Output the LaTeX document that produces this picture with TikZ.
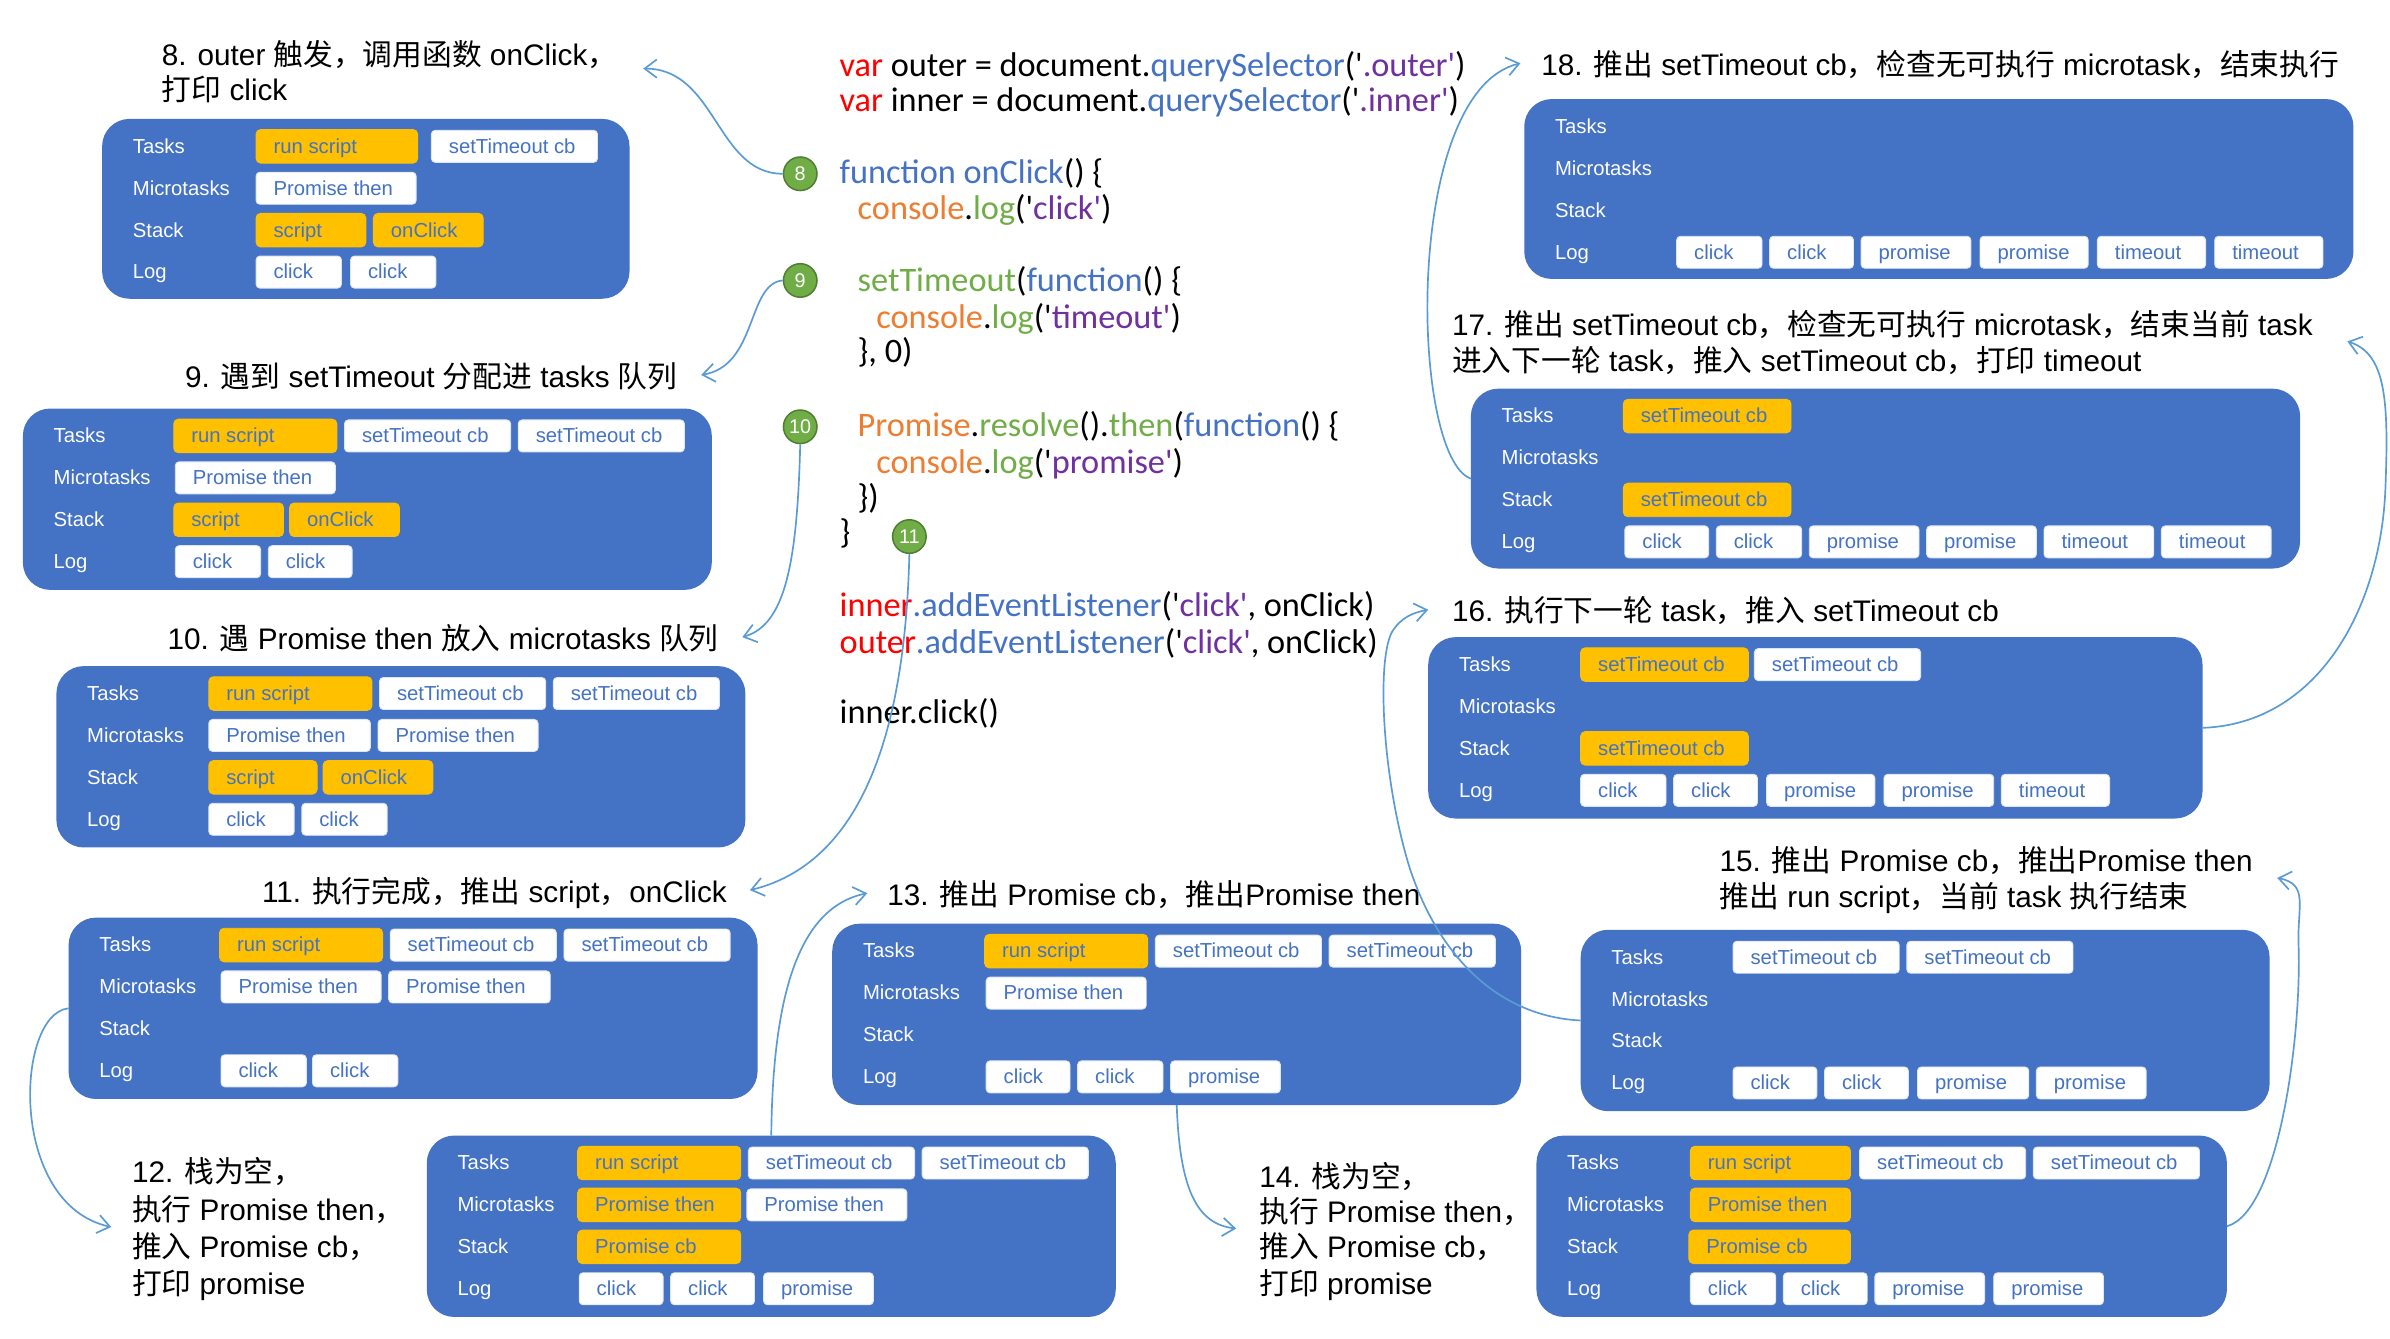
\documentclass[tikz,border=0pt]{standalone}
\usepackage{fontspec}
\setmainfont{Liberation Sans}
\newfontfamily\zhfont{Noto Sans CJK SC}
\newfontfamily\codefont{Carlito}
\usetikzlibrary{arrows.meta}

\definecolor{panelblue}{HTML}{4472C4}
\definecolor{taskorange}{HTML}{FFC000}
\definecolor{connblue}{HTML}{5B9BD5}
\definecolor{numgreen}{HTML}{70AD47}
\definecolor{numdark}{HTML}{507E32}
\definecolor{kwred}{HTML}{FF0000}
\definecolor{fnblue}{HTML}{4472C4}
\definecolor{strpurple}{HTML}{7030A0}
\definecolor{conorange}{HTML}{ED7D31}
\definecolor{loggreen}{HTML}{70AD47}

% Chinese runs inside mixed titles
\newcommand\zh[1]{{\zhfont #1}}
% syntax colouring for the code listing
\newcommand\cRed[1]{\textcolor{kwred}{#1}}
\newcommand\cBlue[1]{\textcolor{fnblue}{#1}}
\newcommand\cPur[1]{\textcolor{strpurple}{#1}}
\newcommand\cOra[1]{\textcolor{conorange}{#1}}
\newcommand\cGrn[1]{\textcolor{loggreen}{#1}}
\newcommand\sqt{\char39\relax}

\tikzset{
  panelbox/.style={fill=panelblue, rounded corners=18pt, inner sep=0pt, outer sep=0pt},
  lbl/.style={text=white, font=\fontsize{13.3}{14}\selectfont, anchor=west,
    inner sep=0pt, text height=10.5pt, text depth=1.5pt},
  btnw/.style={fill=white, draw=white!82!panelblue, line width=0.6pt, rounded corners=2.5pt,
    text=panelblue, font=\fontsize{13.3}{14}\selectfont, anchor=west,
    inner xsep=11.5pt, inner ysep=0pt, minimum height=21pt,
    text height=10.5pt, text depth=1.5pt, outer sep=0pt},
  btno/.style={btnw, fill=taskorange, draw=taskorange, rounded corners=3pt, minimum height=22pt},
  ttl/.style={font=\fontsize{19.5}{23}\selectfont, anchor=base west, inner sep=0pt, yshift=-7pt},
  ttr/.style={ttl, anchor=base east},
  code/.style={font=\codefont\fontsize{22.5}{26}\selectfont, anchor=base west, inner sep=0pt, yshift=-6.5pt},
  num/.style={circle, fill=numgreen, draw=numdark, line width=1pt, minimum size=22pt,
    inner sep=0pt, text=white, font=\fontsize{13}{13}\selectfont},
  conn/.style={draw=connblue, line width=1.1pt, -{Straight Barb[length=8pt,width=12pt]}},
}

% state panel: name, left x, top y, width, height
\newcommand\statepanel[5]{%
  \node[panelbox, minimum width=#4pt, minimum height=#5pt, anchor=north west] (#1) at (#2,#3) {};
  \pgfmathsetmacro\lx{#2+20}%
  \pgfmathsetmacro\ly{#3+18}%
  \node[lbl] (#1-tasks) at (\lx,\ly) {Tasks};
  \pgfmathsetmacro\ly{#3+45.5}%
  \node[lbl] (#1-micro) at (\lx,\ly) {Microtasks};
  \pgfmathsetmacro\ly{#3+73}%
  \node[lbl] (#1-stack) at (\lx,\ly) {Stack};
  \pgfmathsetmacro\ly{#3+100.5}%
  \node[lbl] (#1-log) at (\lx,\ly) {Log};
}
% queue entry: name, panel top y, row, left x, right x, style, text
\newcommand\qbtn[7]{%
  \pgfmathsetmacro\by{#2+18+27.5*(#3-1)}%
  \pgfmathsetmacro\bw{#5-#4-23}%
  \node[#6] (#1) at (#4,\by) {\makebox[\bw pt][l]{#7}};
}

\begin{document}
\begin{tikzpicture}[x=1pt, y=-1pt]
\fill[white] (0,0) rectangle (1568,878);
\useasboundingbox (0,0) rectangle (1568,878);

% ---------------- code listing ----------------
\node[code] (l1) at (550.7,43.7) {\cRed{var} outer = document.\cBlue{querySelector}(\sqt\cPur{.outer\sqt})};
\node[code] (l2) at (550.7,66.7) {\cRed{var} inner = document.\cBlue{querySelector}(\sqt\cPur{.inner\sqt})};
\node[code] (l3) at (550.7,113.7) {\cBlue{function onClick}() \{};
\node[code] (l4) at (562.5,137.8) {\cOra{console}.\cGrn{log}(\sqt\cPur{click\sqt})};
\node[code] (l5) at (562.5,184.8) {\cGrn{setTimeout}(\cBlue{function}() \{};
\node[code] (l6) at (574.7,208.7) {\cOra{console}.\cGrn{log}(\sqt\cPur{timeout\sqt})};
\node[code] (l7) at (562.5,231.5) {\}, 0)};
\node[code] (l8) at (562.5,280) {\cOra{Promise}.\cGrn{resolve}().\cGrn{then}(\cBlue{function}() \{};
\node[code] (l9) at (574.7,304) {\cOra{console}.\cGrn{log}(\sqt\cPur{promise\sqt})};
\node[code] (l10) at (562.5,327) {\})};
\node[code] (l11) at (550.7,350) {\}};
\node[code] (l12) at (550.7,398) {\cRed{inner}\cBlue{.addEventListener}(\sqt\cPur{click\sqt}, onClick)};
\node[code] (l13) at (550.7,422) {\cRed{outer}\cBlue{.addEventListener}(\sqt\cPur{click\sqt}, onClick)};
\node[code] (l14) at (550.7,468) {inner.click()};

\node[num] (c8) at (525,114) {8};
\node[num] (c9) at (525,184) {9};
\node[num] (c10) at (525,280) {10};
\node[num] (c11) at (596.6,352) {11};

% ---------------- step 8 ----------------
\node[ttl] (t8a) at (106,36) {8. outer \zh{触发，调用函数} onClick\zh{，}};
\node[ttl] (t8b) at (106,59) {\zh{打印} click};
\statepanel{p8}{67}{78}{346}{118}
\qbtn{p8-t1}{78}{1}{168}{274}{btno}{run script}
\qbtn{p8-t2}{78}{1}{283}{392}{btnw}{setTimeout cb}
\qbtn{p8-m1}{78}{2}{168}{273}{btnw}{Promise then}
\qbtn{p8-s1}{78}{3}{168}{240}{btno}{script}
\qbtn{p8-s2}{78}{3}{245}{317}{btno}{onClick}
\qbtn{p8-l1}{78}{4}{168}{224}{btnw}{click}
\qbtn{p8-l2}{78}{4}{230}{286}{btnw}{click}

% ---------------- step 9 ----------------
\node[ttr] (t9) at (444.6,247) {9. \zh{遇到} setTimeout \zh{分配进} tasks \zh{队列}};
\statepanel{p9}{15}{268}{452}{119}
\qbtn{p9-t1}{268}{1}{114}{221}{btno}{run script}
\qbtn{p9-t2}{268}{1}{226}{335}{btnw}{setTimeout cb}
\qbtn{p9-t3}{268}{1}{340}{449}{btnw}{setTimeout cb}
\qbtn{p9-m1}{268}{2}{115}{220}{btnw}{Promise then}
\qbtn{p9-s1}{268}{3}{114}{186}{btno}{script}
\qbtn{p9-s2}{268}{3}{190}{262}{btno}{onClick}
\qbtn{p9-l1}{268}{4}{115}{171}{btnw}{click}
\qbtn{p9-l2}{268}{4}{176}{231}{btnw}{click}

% ---------------- step 10 ----------------
\node[ttr] (t10) at (471.7,419) {10. \zh{遇} Promise then \zh{放入} microtasks \zh{队列}};
\statepanel{p10}{37}{437}{452}{119}
\qbtn{p10-t1}{437}{1}{137}{244}{btno}{run script}
\qbtn{p10-t2}{437}{1}{249}{358}{btnw}{setTimeout cb}
\qbtn{p10-t3}{437}{1}{363}{472}{btnw}{setTimeout cb}
\qbtn{p10-m1}{437}{2}{137}{243}{btnw}{Promise then}
\qbtn{p10-m2}{437}{2}{248}{353}{btnw}{Promise then}
\qbtn{p10-s1}{437}{3}{137}{208}{btno}{script}
\qbtn{p10-s2}{437}{3}{212}{284}{btno}{onClick}
\qbtn{p10-l1}{437}{4}{137}{193}{btnw}{click}
\qbtn{p10-l2}{437}{4}{198}{254}{btnw}{click}

% ---------------- step 11 ----------------
\node[ttr] (t11) at (477,585) {11. \zh{执行完成，推出} script\zh{，}onClick};
\statepanel{p11}{45}{602}{452}{119}
\qbtn{p11-t1}{602}{1}{144}{251}{btno}{run script}
\qbtn{p11-t2}{602}{1}{256}{365}{btnw}{setTimeout cb}
\qbtn{p11-t3}{602}{1}{370}{479}{btnw}{setTimeout cb}
\qbtn{p11-m1}{602}{2}{145}{250}{btnw}{Promise then}
\qbtn{p11-m2}{602}{2}{255}{361}{btnw}{Promise then}
\qbtn{p11-l1}{602}{4}{145}{201}{btnw}{click}
\qbtn{p11-l2}{602}{4}{205}{261}{btnw}{click}

% ---------------- step 12 ----------------
\node[ttl] (t12a) at (86.4,769) {12. \zh{栈为空，}};
\node[ttl] (t12b) at (86.4,794) {\zh{执行} Promise then\zh{，}};
\node[ttl] (t12c) at (86.4,818) {\zh{推入} Promise cb\zh{，}};
\node[ttl] (t12d) at (86.4,842) {\zh{打印} promise};
\statepanel{p12}{280}{745}{452}{119}
\qbtn{p12-t1}{745}{1}{379}{486}{btno}{run script}
\qbtn{p12-t2}{745}{1}{491}{600}{btnw}{setTimeout cb}
\qbtn{p12-t3}{745}{1}{605}{714}{btnw}{setTimeout cb}
\qbtn{p12-m1}{745}{2}{379}{486}{btno}{Promise then}
\qbtn{p12-m2}{745}{2}{490}{595}{btnw}{Promise then}
\qbtn{p12-s1}{745}{3}{379}{486}{btno}{Promise cb}
\qbtn{p12-l1}{745}{4}{380}{435}{btnw}{click}
\qbtn{p12-l2}{745}{4}{440}{495}{btnw}{click}
\qbtn{p12-l3}{745}{4}{501}{573}{btnw}{promise}

% ---------------- step 13 ----------------
\node[ttl] (t13) at (582,587) {13. \zh{推出} Promise cb\zh{，推出}Promise then};
\statepanel{p13}{546}{606}{452}{119}
\qbtn{p13-t1}{606}{1}{646}{753}{btno}{run script}
\qbtn{p13-t2}{606}{1}{758}{867}{btnw}{setTimeout cb}
\qbtn{p13-t3}{606}{1}{872}{981}{btnw}{setTimeout cb}
\qbtn{p13-m1}{606}{2}{647}{752}{btnw}{Promise then}
\qbtn{p13-l1}{606}{4}{647}{702}{btnw}{click}
\qbtn{p13-l2}{606}{4}{707}{763}{btnw}{click}
\qbtn{p13-l3}{606}{4}{768}{840}{btnw}{promise}

% ---------------- step 14 ----------------
\node[ttl] (t14a) at (826,772) {14. \zh{栈为空，}};
\node[ttl] (t14b) at (826,795) {\zh{执行} Promise then\zh{，}};
\node[ttl] (t14c) at (826,818) {\zh{推入} Promise cb\zh{，}};
\node[ttl] (t14d) at (826,842) {\zh{打印} promise};
\statepanel{p14}{1008}{745}{453}{119}
\qbtn{p14-t1}{745}{1}{1109}{1214}{btno}{run script}
\qbtn{p14-t2}{745}{1}{1220}{1329}{btnw}{setTimeout cb}
\qbtn{p14-t3}{745}{1}{1334}{1443}{btnw}{setTimeout cb}
\qbtn{p14-m1}{745}{2}{1109}{1214}{btno}{Promise then}
\qbtn{p14-s1}{745}{3}{1108}{1214}{btno}{Promise cb}
\qbtn{p14-l1}{745}{4}{1109}{1165}{btnw}{click}
\qbtn{p14-l2}{745}{4}{1170}{1225}{btnw}{click}
\qbtn{p14-l3}{745}{4}{1230}{1302}{btnw}{promise}
\qbtn{p14-l4}{745}{4}{1308}{1380}{btnw}{promise}

% ---------------- step 15 ----------------
\node[ttl] (t15a) at (1128,565) {15. \zh{推出} Promise cb\zh{，推出}Promise then};
\node[ttl] (t15b) at (1128,588.5) {\zh{推出} run script\zh{，当前} task \zh{执行结束}};
\statepanel{p15}{1037}{610}{452}{119}
\qbtn{p15-t1}{610}{1}{1137}{1246}{btnw}{setTimeout cb}
\qbtn{p15-t2}{610}{1}{1251}{1360}{btnw}{setTimeout cb}
\qbtn{p15-l1}{610}{4}{1137}{1192}{btnw}{click}
\qbtn{p15-l2}{610}{4}{1197}{1252}{btnw}{click}
\qbtn{p15-l3}{610}{4}{1258}{1331}{btnw}{promise}
\qbtn{p15-l4}{610}{4}{1336}{1408}{btnw}{promise}

% ---------------- step 16 ----------------
\node[ttl] (t16) at (952.5,401) {16. \zh{执行下一轮} task\zh{，推入} setTimeout cb};
\statepanel{p16}{937}{418}{508}{119}
\qbtn{p16-t1}{418}{1}{1037}{1147}{btno}{setTimeout cb}
\qbtn{p16-t2}{418}{1}{1151}{1260}{btnw}{setTimeout cb}
\qbtn{p16-s1}{418}{3}{1037}{1147}{btno}{setTimeout cb}
\qbtn{p16-l1}{418}{4}{1037}{1093}{btnw}{click}
\qbtn{p16-l2}{418}{4}{1098}{1153}{btnw}{click}
\qbtn{p16-l3}{418}{4}{1159}{1230}{btnw}{promise}
\qbtn{p16-l4}{418}{4}{1236}{1308}{btnw}{promise}
\qbtn{p16-l5}{418}{4}{1313}{1384}{btnw}{timeout}

% ---------------- step 17 ----------------
\node[ttl] (t17a) at (952.5,213) {17. \zh{推出} setTimeout cb\zh{，检查无可执行} microtask\zh{，结束当前} task};
\node[ttl] (t17b) at (952.5,237) {\zh{进入下一轮} task\zh{，推入} setTimeout cb\zh{，打印} timeout};
\statepanel{p17}{965}{255}{544}{118}
\qbtn{p17-t1}{255}{1}{1065}{1175}{btno}{setTimeout cb}
\qbtn{p17-s1}{255}{3}{1065}{1175}{btno}{setTimeout cb}
\qbtn{p17-l1}{255}{4}{1066}{1121}{btnw}{click}
\qbtn{p17-l2}{255}{4}{1126}{1182}{btnw}{click}
\qbtn{p17-l3}{255}{4}{1187}{1259}{btnw}{promise}
\qbtn{p17-l4}{255}{4}{1264}{1336}{btnw}{promise}
\qbtn{p17-l5}{255}{4}{1341}{1413}{btnw}{timeout}
\qbtn{p17-l6}{255}{4}{1418}{1490}{btnw}{timeout}

% ---------------- step 18 ----------------
\node[ttl] (t18) at (1011,42.6) {18. \zh{推出} setTimeout cb\zh{，检查无可执行} microtask\zh{，结束执行}};
\statepanel{p18}{1000}{65}{544}{118}
\qbtn{p18-l1}{65}{4}{1100}{1156}{btnw}{click}
\qbtn{p18-l2}{65}{4}{1161}{1216}{btnw}{click}
\qbtn{p18-l3}{65}{4}{1221}{1293}{btnw}{promise}
\qbtn{p18-l4}{65}{4}{1299}{1370}{btnw}{promise}
\qbtn{p18-l5}{65}{4}{1376}{1447}{btnw}{timeout}
\qbtn{p18-l6}{65}{4}{1453}{1524}{btnw}{timeout}

% ---------------- arrow tips next to the step titles ----------------
\coordinate (a8) at (422,45);
\coordinate (a9) at (460,246);
\coordinate (a10) at (487,418);
\coordinate (a11) at (492,584);
\coordinate (a12) at (73,805);
\coordinate (a13) at (569,586);
\coordinate (a14) at (811,806);
\coordinate (a15) at (1494,576);
\coordinate (a16) at (937,400);
\coordinate (a17) at (1540,224);
\coordinate (a18) at (997.5,41.5);

% ---------------- connectors ----------------
\draw[conn] (c8.west) .. controls (470,114) and (470,45) .. (a8);
\draw[conn] (c9.west) .. controls (490,186) and (497,240) .. (a9);
\draw[conn] (c10.south) .. controls (523,370) and (515,410) .. (a10);
\draw[conn] (c11.south) .. controls (594,470) and (570,565) .. (a11);
\draw[conn] (p11.west) .. controls (10,665) and (5,790) .. (a12);
\draw[conn] (p12.north) .. controls (507,650) and (525,595) .. (a13);
\draw[conn] (p13.south) .. controls (774,780) and (785,803) .. (a14);
\draw[conn] (p14.east) .. controls (1495,795) and (1510,680) .. (1508,620)
                       .. controls (1507,595) and (1515,580) .. (a15);
\draw[conn] (p15.west) .. controls (985,667) and (945,630) .. (925,570)
                       .. controls (907,512) and (903,435) .. (913,415)
                       .. controls (919,405) and (927,402) .. (a16);
\draw[conn] (p16.east) .. controls (1520,475) and (1562,400) .. (1565,320)
                       .. controls (1567,265) and (1566,232) .. (a17);
\draw[conn] (p17.west) .. controls (925,300) and (920,60) .. (a18);
\end{tikzpicture}
\end{document}
